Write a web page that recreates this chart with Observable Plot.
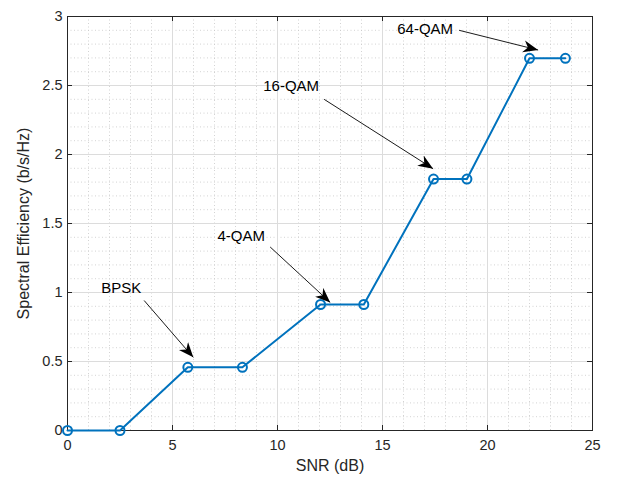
<!DOCTYPE html>
<html>
<head>
<meta charset="utf-8">
<script src="https://cdn.jsdelivr.net/npm/d3@7"></script>
<script src="https://cdn.jsdelivr.net/npm/@observablehq/plot@0.6"></script>
<style>
  html, body { margin: 0; padding: 0; background: #fff; }
  #chart { width: 617px; height: 482px; }
</style>
</head>
<body>
<div id="chart"></div>
<script>
// Data
const snr = [0, 2.5, 5.73, 8.33, 12.05, 14.11, 17.43, 19.02, 22.0, 23.71];
const efficiency = [0, 0, 0.458, 0.458, 0.913, 0.913, 1.822, 1.822, 2.697, 2.697];

const xTicks = [0, 5, 10, 15, 20, 25];
const yTicks = [0, 0.5, 1, 1.5, 2, 2.5, 3];
const xMinor = d3.range(0, 25.001, 1);
const yMinor = d3.range(0, 3.0001, 0.1);

const annLabels = ["BPSK", "4-QAM", "16-QAM", "64-QAM"];
const annTextX = [2.56, 8.27, 10.65, 17.03];
const annTextY = [1.03, 1.41, 2.497, 2.91];
const arrowX1 = [3.65, 9.65, 12.22, 18.65];
const arrowY1 = [0.942, 1.33, 2.40, 2.90];
const arrowX2 = [5.99, 12.51, 17.41, 22.41];
const arrowY2 = [0.53, 0.928, 1.897, 2.757];

const points = snr.map((x, i) => ({x, y: efficiency[i]}));
const anns = annLabels.map((label, i) => ({
  label, tx: annTextX[i], ty: annTextY[i],
  x1: arrowX1[i], y1: arrowY1[i], x2: arrowX2[i], y2: arrowY2[i]
}));

const W = 617, H = 482;
const mL = 67, mR = 25, mT = 16, mB = 52;
const innerW = W - mL - mR, innerH = H - mT - mB;
const axisColor = "#262626";
const lineColor = "#0072BD";

function arrowHead(color, context) {
  const ns = "http://www.w3.org/2000/svg";
  const doc = (context && context.document) || document;
  const marker = doc.createElementNS(ns, "marker");
  marker.setAttribute("viewBox", "-15 -7 16 14");
  marker.setAttribute("markerUnits", "userSpaceOnUse");
  marker.setAttribute("markerWidth", 16);
  marker.setAttribute("markerHeight", 14);
  marker.setAttribute("refX", 0);
  marker.setAttribute("refY", 0);
  marker.setAttribute("orient", "auto");
  const path = doc.createElementNS(ns, "path");
  path.setAttribute("d", "M0,0L-15,-6L-10.5,0L-15,6Z");
  path.setAttribute("fill", "#000");
  path.setAttribute("stroke", "none");
  marker.appendChild(path);
  return marker;
}

const chart = Plot.plot({
  width: W,
  height: H,
  marginLeft: mL,
  marginRight: mR,
  marginTop: mT,
  marginBottom: mB,
  style: {fontFamily: "'Liberation Sans', Arial, Helvetica, sans-serif", fontSize: "14.5px", color: axisColor, background: "#fff"},
  x: {domain: [0, 25]},
  y: {domain: [0, 3]},
  marks: [
    // minor grid
    Plot.ruleX(xMinor.filter(v => !xTicks.includes(v)), {stroke: "#c8c8c8", strokeWidth: 0.8, strokeDasharray: "1,2.5"}),
    Plot.ruleY(yMinor.filter(v => !yTicks.some(t => Math.abs(t - v) < 1e-6)), {stroke: "#c8c8c8", strokeWidth: 0.8, strokeDasharray: "1,2.5"}),
    // major grid
    Plot.ruleX(xTicks, {stroke: "#dcdcdc", strokeWidth: 1}),
    Plot.ruleY(yTicks, {stroke: "#dcdcdc", strokeWidth: 1}),
    // inward ticks
    Plot.tickX(xTicks, {x: d => d, stroke: axisColor, insetTop: innerH - 5}),
    Plot.tickX(xTicks, {x: d => d, stroke: axisColor, insetBottom: innerH - 5}),
    Plot.tickY(yTicks, {y: d => d, stroke: axisColor, insetRight: innerW - 5}),
    Plot.tickY(yTicks, {y: d => d, stroke: axisColor, insetLeft: innerW - 5}),
    Plot.frame({stroke: axisColor, strokeWidth: 1}),
    Plot.axisX(xTicks, {tickSize: 0, tickPadding: 9, label: null, fontSize: 14.5, fill: axisColor}),
    Plot.axisY(yTicks, {tickSize: 0, tickPadding: 5, label: null, fontSize: 14.5, fill: axisColor, tickFormat: d => String(d)}),
    Plot.text(["SNR (dB)"], {frameAnchor: "bottom", dy: 40, fontSize: 16, fill: axisColor, textAnchor: "middle"}),
    Plot.text(["Spectral Efficiency (b/s/Hz)"], {frameAnchor: "left", dx: -44, rotate: -90, fontSize: 16, fill: axisColor, textAnchor: "middle"}),
    // data
    Plot.line(points, {x: "x", y: "y", stroke: lineColor, strokeWidth: 2}),
    Plot.dot(points, {x: "x", y: "y", r: 4.5, stroke: lineColor, strokeWidth: 2, fill: "none"}),
    // annotations
    Plot.link(anns, {x1: "x1", y1: "y1", x2: "x2", y2: "y2", stroke: "#000", strokeWidth: 0.9, markerEnd: arrowHead}),
    Plot.text(anns, {x: "tx", y: "ty", text: "label", fontSize: 15, fill: "#000"})
  ]
});
document.getElementById("chart").appendChild(chart);
</script>
</body>
</html>
